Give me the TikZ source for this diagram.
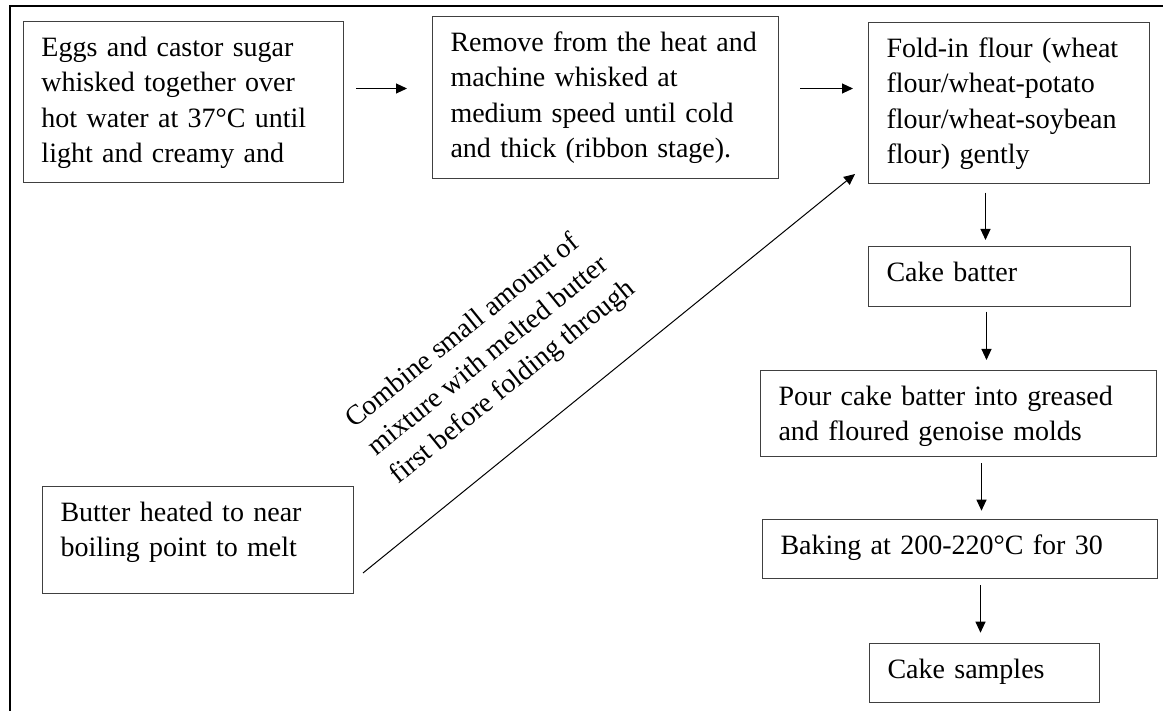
\documentclass[tikz,border=0pt]{standalone}
\usepackage{fontspec}
\setmainfont{Liberation Serif}
\usetikzlibrary{arrows.meta}
\newcommand{\stepfont}{\fontsize{28}{35.5}\selectfont}

\begin{document}
\begin{tikzpicture}[x=1pt, y=-1pt, % pixel grid, y pointing down
	> = {Triangle[length=11pt,width=10pt]}, % arrow head style
	line width=1pt,
	stepbox/.style={draw=black!75, anchor=north west, align=left, font=\stepfont,
		inner xsep=18pt, inner ysep=0pt, text height=35pt}]
	\useasboundingbox (0,0) rectangle (1163,711);
	\draw[line width=2.5pt] (1163,6) -- (10,6) -- (10,711);

	\node[stepbox, text width=284pt, text depth=126pt] (eggs) at (23,21)
		{Eggs and castor sugar\\ whisked together over\\ hot water at 37°C until\\ light and creamy and};
	\node[stepbox, text width=310pt, text depth=127pt] (remove) at (432,16)
		{Remove from the heat and\\ machine whisked at\\ medium speed until cold\\ and thick (ribbon stage).};
	\node[stepbox, text width=245pt, text depth=126.5pt] (fold) at (868,22)
		{Fold-in flour (wheat\\ flour/wheat-potato\\ flour/wheat-soybean\\ flour) gently};
	\node[stepbox, text width=226pt, text depth=25pt] (batter) at (868,246) {Cake batter};
	\node[stepbox, text width=360pt, text depth=51pt] (pour) at (760,370)
		{Pour cake batter into greased\\ and floured genoise molds};
	\node[stepbox, text width=359pt, text depth=24pt] (baking) at (762,519) {Baking at 200-220°C for 30};
	\node[stepbox, text width=194pt, text depth=24pt] (samples) at (869,643) {Cake samples};
	\node[stepbox, text width=275pt, text depth=72pt] (butter) at (42,486)
		{Butter heated to near\\ boiling point to melt};
	\node[rotate=39, align=left, font=\stepfont] (note) at (491,355)
		{Combine small amount of\\ mixture with melted butter\\ first before folding through};

	\draw[->] ([xshift=12pt,yshift=13.5pt]eggs.east) -- ([xshift=-25pt,yshift=9pt]remove.west);
	\draw[->] ([xshift=21pt,yshift=9pt]remove.east) -- ([xshift=-15pt,yshift=14.75pt]fold.west);
	\draw[->] ([xshift=-23.5pt,yshift=-8.2pt]fold.south) -- ([xshift=-14pt,yshift=6pt]batter.north);
	\draw[->] ([xshift=-13pt,yshift=-4.7pt]batter.south) -- ([xshift=28pt,yshift=10pt]pour.north);
	\draw[->] ([xshift=23pt,yshift=-6.3pt]pour.south) -- ([xshift=21.5pt,yshift=8.3pt]baking.north);
	\draw[->] ([xshift=20.5pt,yshift=-6pt]baking.south) -- ([xshift=-4pt,yshift=10.3pt]samples.north);
	\draw[->] ([xshift=9pt,yshift=21pt]butter.south east) -- ([xshift=-13pt,yshift=10.5pt]fold.south west);

\end{tikzpicture}
\end{document}
